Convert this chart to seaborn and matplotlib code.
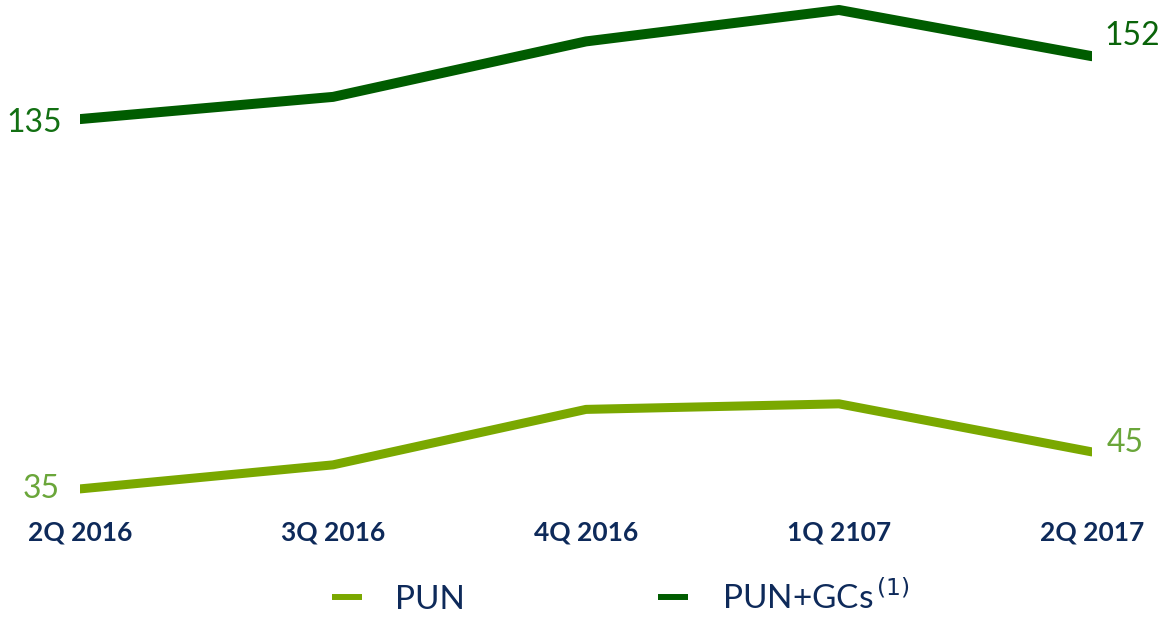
import pandas as pd
import matplotlib.pyplot as plt
import seaborn as sns

quarters = ["2Q 2016", "3Q 2016", "4Q 2016", "1Q 2107", "2Q 2017"]
pun = [35, 41.5, 56.5, 58, 45]
pun_gcs = [135, 141, 156, 164.5, 152]
series_names = ["PUN", r"PUN+GCs$^{\,(1)}$"]

df = pd.DataFrame({
    "quarter": quarters * 2,
    "value": pun + pun_gcs,
    "series": [series_names[0]] * 5 + [series_names[1]] * 5,
})

sns.set_style("white")
plt.rcParams["font.family"] = ["Lato", "DejaVu Sans"]

light = "#7aa800"
dark = "#005c00"
navy = "#0e2a5a"

fig = plt.figure(figsize=(11.62, 6.19), dpi=100)
ax = fig.add_axes([80 / 1162, 119 / 619, 1012 / 1162, 500 / 619])

sns.lineplot(data=df, x="quarter", y="value", hue="series",
             palette=[light, dark], linewidth=7.2, ax=ax, legend=False)
ax.lines[0].set_linewidth(6.5)

ax.set_xlim(0, 4)
ax.set_ylim(32.0, 167.2)
ax.set_xlabel("")
ax.set_ylabel("")
ax.set_yticks([])
sns.despine(ax=ax, left=True, bottom=True)
ax.tick_params(axis="x", length=0, pad=15)
for t in ax.get_xticklabels():
    t.set_fontsize(19)
    t.set_fontweight("bold")
    t.set_color(navy)

# end labels
ax.text(-0.08, pun[0], "35", ha="right", va="center", fontsize=23, color="#6aa63a")
ax.text(4.06, pun[-1] + 2.5, "45", ha="left", va="center", fontsize=23, color="#6aa63a")
ax.text(-0.07, pun_gcs[0] - 1, "135", ha="right", va="center", fontsize=23, color="#137013")
ax.text(4.05, pun_gcs[-1] + 5.5, "152", ha="left", va="center", fontsize=23, color="#0a640a")

handles = [plt.Line2D([], [], color=light, linewidth=4.3, solid_capstyle="butt"),
           plt.Line2D([], [], color=dark, linewidth=4.3, solid_capstyle="butt")]
leg = fig.legend(handles, series_names, loc="center", bbox_to_anchor=(0.534, 0.035),
                 ncol=2, frameon=False, handlelength=0.9, handletextpad=1.0,
                 columnspacing=5.8, prop={"family": "Lato", "size": 24})
for t in leg.get_texts():
    t.set_color(navy)

fig.savefig("out.png", dpi=100)
